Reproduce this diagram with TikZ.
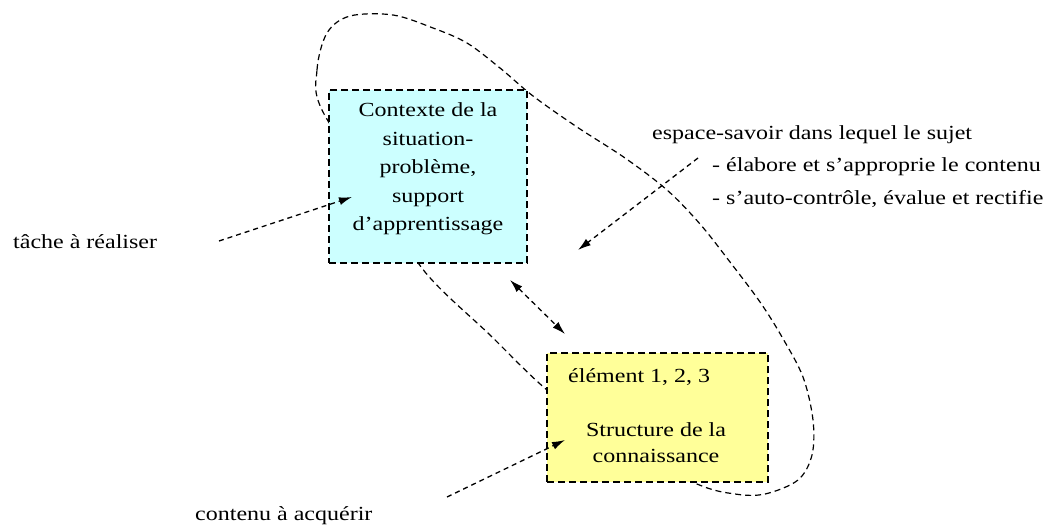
\documentclass[tikz,border=0pt]{standalone}
\usepackage{fontspec}
\setmainfont{Liberation Serif}[FakeStretch=1.2]
\usetikzlibrary{arrows.meta}
\definecolor{boxcyan}{HTML}{CCFFFF}
\definecolor{boxyellow}{HTML}{FFFF99}
\begin{document}
\begin{tikzpicture}[x=1pt,y=-1pt,
  box/.style={draw, line width=1.6pt, dash pattern=on 7pt off 4pt, inner sep=0pt},
  txt/.style={font=\fontsize{20}{28.5}\selectfont, inner sep=0pt},
  tip/.tip={Latex[length=13pt,width=8pt]},
  link/.style={line width=1.3pt, dash pattern=on 5pt off 4pt, -tip},
  loopline/.style={line width=1.2pt, dash pattern=on 6pt off 4pt}]
\useasboundingbox (0,0) rectangle (1057,530);

% closed loop of the knowledge space, passing behind both boxes
\draw[loopline] plot[smooth cycle, tension=0.55] coordinates {
  (322,110) (317,70) (327,33) (350,16) (393,15) (433,28) (467,43)
  (500,68) (533,96) (577,127) (625,158) (667,190) (700,224) (730,262)
  (760,302) (782,337) (803,377) (813,420) (812,455) (798,480) (765,494)
  (735,494) (697,484) (620,445) (547,390) (490,335) (425,272) (380,200)};

% boxes
\node[box, fill=boxcyan, minimum width=198pt, minimum height=173pt] (ctx) at (428,176.5) {};
\node[box, fill=boxyellow, minimum width=221pt, minimum height=129pt] (str) at (657.5,417.5) {};

% box texts
\node[txt, align=center] (ctxtext) at (428,169)
  {Contexte de la\\situation-\\problème,\\support\\d'apprentissage};
\node[txt, anchor=base west] (elem) at (568,382) {élément 1, 2, 3};
\node[txt, align=center, font=\fontsize{20}{26}\selectfont] (strtext) at (656,443)
  {Structure de la\\connaissance};

% outside labels
\node[txt, anchor=base west] (tache) at (13,248) {tâche à réaliser};
\node[txt, anchor=base west] (contenu) at (195,520) {contenu à acquérir};
\node[txt, anchor=base west] (esp1) at (652,139) {espace-savoir dans lequel le sujet};
\node[txt, anchor=base west] (esp2) at (712,171) {- élabore et s'approprie le contenu};
\node[txt, anchor=base west] (esp3) at (712,204) {- s'auto-contrôle, évalue et rectifie};

% connector end points
\coordinate (tacheend) at (219,241);
\coordinate (tachetip) at (352,197);
\coordinate (contend) at (447,497);
\coordinate (conttip) at (565,440);
\coordinate (espend) at (698,158);
\coordinate (esptip) at (578,250);
\coordinate (linka) at (510,280);
\coordinate (linkb) at (565,334);

% connectors
\draw[link] (tacheend) -- (tachetip);
\draw[link] (contend) -- (conttip);
\draw[link] (espend) -- (esptip);
\draw[link, tip-tip] (linka) -- (linkb);
\end{tikzpicture}
\end{document}
